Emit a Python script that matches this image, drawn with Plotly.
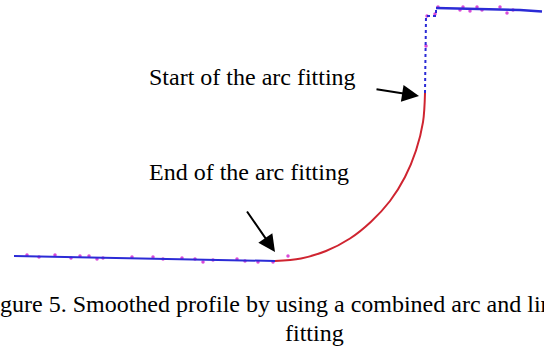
import plotly.graph_objects as go

# Profile (x: horizontal position, z: height; arbitrary units)
flat_x = [14, 60, 100, 150, 200, 250, 275]
flat_z = [91, 90, 89.5, 88.5, 87.5, 86.5, 86]

arc_x = [275, 301, 326, 350, 371, 390, 405, 416, 423, 425]
arc_z = [86, 88.6, 96, 108.5, 125.3, 146, 170, 196.5, 224.8, 254]

wall_x = [425, 426, 436, 436]
wall_z = [254, 331, 331, 339]

top_x = [436, 480, 520, 542]
top_z = [339, 338, 337, 335.5]

noise_x = [27, 39, 55, 71, 80, 89, 97, 103, 132, 153, 163, 182, 195, 203, 213, 237, 245, 258, 273, 288,
           438, 460, 463, 470, 477, 482, 500, 507, 513, 435, 427, 426]
noise_z = [92, 90, 92, 89, 91, 91, 88, 89, 90, 90, 88, 89, 88, 85, 87, 88, 86, 85, 85, 91,
           340, 337, 340, 336, 340, 337, 340, 334, 337, 333, 331, 301]

BLUE = "#2b2bd6"
RED = "#cf2430"
MAG = "#d94ad9"
FONT = "Liberation Serif, Times New Roman, serif"

fig = go.Figure()
fig.add_trace(go.Scatter(x=noise_x, y=noise_z, mode="markers",
                         marker=dict(color=MAG, size=3.5), hoverinfo="skip"))
fig.add_trace(go.Scatter(x=flat_x, y=flat_z, mode="lines",
                         line=dict(color=BLUE, width=2)))
fig.add_trace(go.Scatter(x=wall_x, y=wall_z, mode="lines",
                         line=dict(color=BLUE, width=2, dash="dot")))
fig.add_trace(go.Scatter(x=top_x, y=top_z, mode="lines",
                         line=dict(color=BLUE, width=2.5)))
fig.add_trace(go.Scatter(x=arc_x, y=arc_z, mode="lines",
                         line=dict(color=RED, width=2, shape="spline")))

W, H = 544, 347
ann = [
    dict(x=147, y=270, xref="x", yref="y", text="Start of the arc fitting", showarrow=False,
         xanchor="left", yanchor="middle", font=dict(family=FONT, size=24, color="black")),
    dict(x=147, y=175, xref="x", yref="y", text="End of the arc fitting", showarrow=False,
         xanchor="left", yanchor="middle", font=dict(family=FONT, size=24, color="black")),
    dict(x=419, y=251, ax=375, ay=258, xref="x", yref="y", axref="x", ayref="y", text="",
         showarrow=True, arrowhead=2, arrowsize=1.7, arrowwidth=2, arrowcolor="black"),
    dict(x=275, y=95, ax=246, ay=137, xref="x", yref="y", axref="x", ayref="y", text="",
         showarrow=True, arrowhead=2, arrowsize=1.7, arrowwidth=2, arrowcolor="black"),
    dict(x=-22 / W, y=43 / H, xref="paper", yref="paper",
         text="Figure 5. Smoothed profile by using a combined arc and line",
         showarrow=False, xanchor="left", yanchor="middle",
         font=dict(family=FONT, size=24, color="black")),
    dict(x=314 / W, y=14 / H, xref="paper", yref="paper", text="fitting",
         showarrow=False, xanchor="center", yanchor="middle",
         font=dict(family=FONT, size=24, color="black")),
]

fig.update_layout(
    width=W, height=H,
    margin=dict(l=0, r=0, t=0, b=0),
    paper_bgcolor="white", plot_bgcolor="white",
    showlegend=False,
    xaxis=dict(range=[0, W], visible=False, fixedrange=True),
    yaxis=dict(range=[0, H], visible=False, fixedrange=True),
    annotations=ann,
)

fig.write_html("out.html", config={"displayModeBar": False},
               post_script="document.body.style.margin='0';")
